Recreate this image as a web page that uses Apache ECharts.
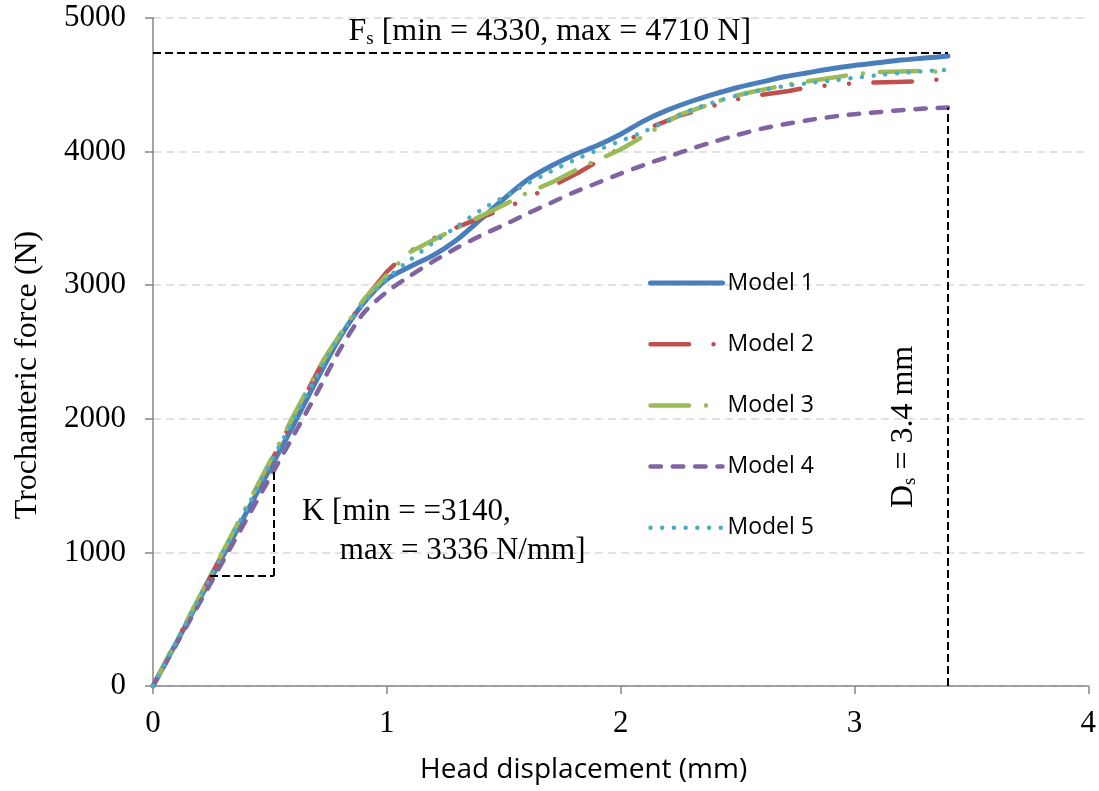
<!DOCTYPE html>
<html>
<head>
<meta charset="utf-8">
<script src="https://cdn.jsdelivr.net/npm/echarts@6/dist/echarts.min.js"></script>
<style>
html,body{margin:0;padding:0;background:#fff;}
#chart{width:1099px;height:791px;}
</style>
</head>
<body>
<div id="chart"></div>
<script>
// ---- data (x = head displacement mm, y = trochanteric force N) ----
const seriesNames = ['Model 1', 'Model 2', 'Model 3', 'Model 4', 'Model 5'];
const xTicks = [0, 1, 2, 3, 4];
const yTicks = [0, 1000, 2000, 3000, 4000, 5000];

const model1 = [[0,0],[0.1,325],[0.2,650],[0.3,975],[0.4,1300],[0.5,1625],[0.6,1950],[0.7,2290],[0.8,2610],[0.9,2865],[1.0,3045],[1.1,3140],[1.2,3225],[1.3,3340],[1.4,3490],[1.5,3645],[1.6,3787],[1.7,3890],[1.8,3975],[1.9,4045],[2.0,4130],[2.1,4230],[2.2,4310],[2.3,4375],[2.4,4430],[2.5,4480],[2.6,4520],[2.7,4560],[2.8,4590],[2.9,4620],[3.0,4645],[3.1,4665],[3.2,4685],[3.3,4700],[3.4,4715]];
const model2 = [[0,0],[0.1,335],[0.2,670],[0.3,1000],[0.4,1335],[0.5,1665],[0.6,2000],[0.7,2340],[0.73,2440],[0.8,2620],[0.9,2885],[1.0,3100],[1.085,3241],[1.17,3323],[1.27,3413],[1.43,3525],[1.52,3585],[1.61,3660],[1.70,3735],[1.825,3847],[2.02,4049],[2.08,4147],[2.26,4274],[2.35,4319],[2.45,4371],[2.54,4409],[2.72,4454],[2.81,4484],[2.91,4499],[3.01,4513],[3.18,4521],[3.28,4528],[3.4,4545]];
const model3 = [[0,0],[0.1,337],[0.2,673],[0.3,1010],[0.4,1345],[0.5,1680],[0.6,2020],[0.7,2350],[0.756,2515],[0.855,2777],[0.906,2904],[1.034,3136],[1.10,3249],[1.3,3430],[1.5,3600],[1.58,3675],[1.71,3773],[1.825,3877],[1.996,4012],[2.07,4087],[2.25,4274],[2.31,4311],[2.47,4409],[2.56,4446],[2.75,4513],[2.84,4536],[3.01,4581],[3.10,4596],[3.28,4603],[3.4,4595]];
const model4 = [[0,0],[0.1,312],[0.2,624],[0.3,936],[0.4,1248],[0.5,1560],[0.6,1872],[0.7,2190],[0.8,2520],[0.9,2790],[1.0,2950],[1.1,3070],[1.2,3180],[1.3,3280],[1.4,3370],[1.5,3450],[1.6,3535],[1.7,3615],[1.8,3695],[1.9,3765],[2.0,3835],[2.1,3900],[2.2,3960],[2.3,4020],[2.4,4075],[2.5,4125],[2.6,4170],[2.7,4205],[2.8,4235],[2.9,4260],[3.0,4280],[3.1,4295],[3.2,4310],[3.3,4322],[3.4,4330]];
const model5 = [[0,0],[0.1,332],[0.2,664],[0.3,996],[0.4,1328],[0.5,1660],[0.6,1992],[0.7,2320],[0.8,2625],[0.9,2865],[1.0,3050],[1.1,3190],[1.2,3320],[1.3,3440],[1.4,3560],[1.5,3660],[1.6,3760],[1.7,3850],[1.8,3935],[1.9,4010],[2.0,4080],[2.1,4150],[2.2,4230],[2.3,4310],[2.4,4370],[2.5,4420],[2.6,4460],[2.7,4490],[2.8,4512],[2.9,4532],[3.0,4552],[3.1,4572],[3.2,4590],[3.3,4602],[3.4,4612]];

// annotation values
const fsLineY = 4740;      // horizontal Fs guide
const dsX = 3.4;           // Ds guide
const dsTop = 4330;
const kBox = {x0: 0.244, x1: 0.517, y0: 823, y1: 1617};

const chart = echarts.init(document.getElementById('chart'));
const serif = 'Liberation Serif, Times New Roman, serif';
const sans = 'Open Sans, sans-serif';

const guide = {color: '#000', width: 2, type: [8, 4]};

function mk(name, data, color, width, type, smooth, extra) {
  return Object.assign({
    name: name, type: 'line', data: data, symbol: 'none', showSymbol: false,
    smooth: smooth,
    lineStyle: {color: color, width: width, type: type, cap: 'round', join: 'round'},
    itemStyle: {color: color},
    z: 3
  }, extra || {});
}

const option = {
  animation: false,
  backgroundColor: '#fff',
  grid: {left: 153, right: 10, top: 18, bottom: 105, containLabel: false},
  xAxis: {
    type: 'value', min: 0, max: 4, interval: 1,
    name: 'Head displacement (mm)', nameLocation: 'middle', nameGap: 70,
    nameTextStyle: {fontFamily: sans, fontSize: 28, color: '#000', padding: [0, 74, 0, 0]},
    axisLine: {show: true, onZero: false, lineStyle: {color: '#868686', width: 1.5}},
    axisTick: {show: true, inside: false, length: 8, lineStyle: {color: '#868686', width: 1.5}},
    axisLabel: {fontFamily: serif, fontSize: 31, color: '#000', margin: 22,
      formatter: v => xTicks.includes(v) ? String(v) : ''},
    splitLine: {show: false}
  },
  yAxis: {
    type: 'value', min: 0, max: 5000, interval: 1000,
    axisLine: {show: true, lineStyle: {color: '#868686', width: 1.5}},
    axisTick: {show: true, inside: false, length: 8, lineStyle: {color: '#868686', width: 1.5}},
    axisLabel: {fontFamily: serif, fontSize: 31, color: '#000', margin: 27,
      formatter: v => yTicks.includes(v) ? String(v) : ''},
    splitLine: {show: true, lineStyle: {color: '#d9d9d9', width: 1.5, type: [8, 5]}}
  },
  legend: {
    orient: 'vertical', left: 643, top: 266,
    itemWidth: 72, itemHeight: 24, itemGap: 37.2,
    itemStyle: {opacity: 0},
    lineStyle: {width: 'inherit', type: 'inherit', cap: 'round'},
    textStyle: {fontFamily: sans, fontSize: 23, color: '#000', lineHeight: 24},
    data: seriesNames
  },
  series: [
    mk(seriesNames[0], model1, '#4a7ebb', 5, 'solid', 0.25, {
      markLine: {
        silent: true, symbol: 'none', label: {show: false},
        lineStyle: guide,
        data: [
          [{coord: [0, fsLineY]}, {coord: [dsX, fsLineY]}],
          [{coord: [dsX, 0]}, {coord: [dsX, dsTop]}],
          [{coord: [kBox.x0, kBox.y0]}, {coord: [kBox.x1, kBox.y0]}],
          [{coord: [kBox.x1, kBox.y0]}, {coord: [kBox.x1, kBox.y1]}]
        ]
      }
    }),
    mk(seriesNames[1], model2, '#c0504d', 4.5, [38.5, 24.5, 0.01, 24.5, 0.01, 24.5], false),
    mk(seriesNames[2], model3, '#9bbb59', 4.5, [38.5, 17, 0.01, 17], false),
    mk(seriesNames[3], model4, '#8064a2', 4.5, [10.5, 11.8], 0.25),
    mk(seriesNames[4], model5, '#4bacc6', 4.5, [0.01, 11.7], 0.25)
  ]
};
chart.setOption(option);

function px(x, y) { return chart.convertToPixel({gridIndex: 0}, [x, y]); }
const pFs = px(1.697, 4895);
const pK1 = px(0.637, 1302);
const pK2 = px(0.799, 1010);
const pDs = px(3.209, 1939);
const annStyle = {fontFamily: serif, fontSize: 31, fill: '#000'};
const subRich = {a: {fontFamily: serif, fontSize: 32, color: '#000'}, s: {fontFamily: serif, fontSize: 19, color: '#000', padding: [14, 0, 0, 0]}};
chart.setOption({
  graphic: [
    {type: 'text', x: 28, y: 375, rotation: Math.PI / 2, z: 10,
      style: {text: 'Trochanteric force (N)', fontFamily: serif, fontSize: 32, fill: '#000', align: 'center', verticalAlign: 'middle'}},
    {type: 'text', x: pFs[0], y: pFs[1], z: 10,
      style: Object.assign({}, annStyle, {text: '{a|F}{s|s}{a| [min = 4330, max = 4710 N]}', align: 'center', verticalAlign: 'middle', rich: subRich})},
    {type: 'text', x: pK1[0], y: pK1[1], z: 10,
      style: Object.assign({}, annStyle, {text: 'K [min = =3140,', align: 'left', verticalAlign: 'middle'})},
    {type: 'text', x: pK2[0], y: pK2[1], z: 10,
      style: Object.assign({}, annStyle, {text: 'max = 3336 N/mm]', align: 'left', verticalAlign: 'middle'})},
    {type: 'text', x: pDs[0], y: pDs[1], rotation: Math.PI / 2, z: 10,
      style: Object.assign({}, annStyle, {text: '{a|D}{s|s}{a| = 3.4 mm}', align: 'center', verticalAlign: 'middle', rich: subRich})}
  ]
});
</script>
</body>
</html>
